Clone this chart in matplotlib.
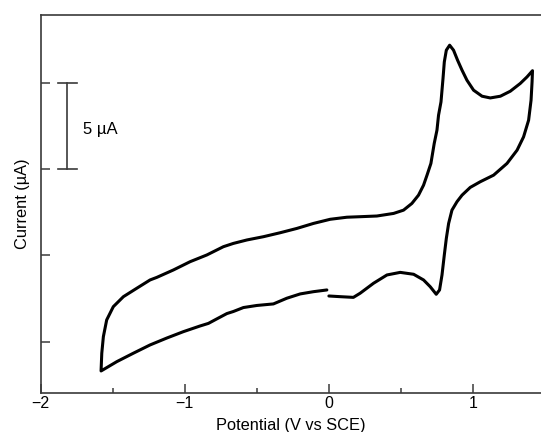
import numpy as np
import matplotlib
matplotlib.use("Agg")
import matplotlib.pyplot as plt
from matplotlib.ticker import MultipleLocator, NullFormatter

plt.rcParams['font.family'] = ['Liberation Sans', 'DejaVu Sans']

# cyclic voltammogram (V vs SCE, current in uA)
# starts at 0 V on the lower branch -> dip -> switch at +1.41 V -> upper branch
# -> switch at -1.58 V -> lower branch back to 0 V
pot_a = [0.00, 0.08, 0.17, 0.217, 0.310, 0.403, 0.495, 0.588, 0.657, 0.703, 0.745,
         0.768, 0.785, 0.801, 0.815, 0.831, 0.854, 0.889, 0.924, 0.981, 1.051, 1.143,
         1.236, 1.306, 1.351, 1.386, 1.403, 1.410, 1.413,
         1.375, 1.328, 1.259, 1.190, 1.120, 1.063, 1.004, 0.958, 0.924, 0.893, 0.865,
         0.838, 0.815, 0.801, 0.792, 0.778, 0.761, 0.750, 0.731, 0.708, 0.681, 0.657,
         0.622, 0.576, 0.518, 0.449, 0.333, 0.217, 0.125, 0.009, -0.107, -0.222,
         -0.338, -0.454, -0.569, -0.663, -0.732, -0.847, -0.963, -1.079, -1.194,
         -1.241, -1.333, -1.426, -1.496, -1.542, -1.565, -1.576, -1.581,
         -1.472, -1.357, -1.241, -1.125, -1.010, -0.894, -0.836, -0.778, -0.708,
         -0.663, -0.593, -0.500, -0.385, -0.292, -0.199, -0.107, -0.014]
cur_a = [2.65, 2.61, 2.57, 2.81, 3.39, 3.87, 4.02, 3.91, 3.58, 3.19, 2.75,
         3.00, 3.87, 5.03, 5.99, 6.86, 7.63, 8.12, 8.50, 8.95, 9.28, 9.66,
         10.34, 11.11, 11.88, 12.85, 14.01, 15.07, 15.72,
         15.36, 14.98, 14.53, 14.24, 14.14, 14.24, 14.59, 15.17, 15.75, 16.33, 16.91,
         17.20, 16.91, 16.23, 15.27, 13.91, 13.14, 12.27, 11.50, 10.34, 9.66, 9.08,
         8.50, 8.02, 7.63, 7.44, 7.29, 7.25, 7.22, 7.10, 6.86, 6.57,
         6.32, 6.09, 5.90, 5.70, 5.51, 5.03, 4.64, 4.16, 3.73,
         3.58, 3.10, 2.61, 2.03, 1.26, 0.29, -0.67, -1.70,
         -1.16, -0.67, -0.19, 0.21, 0.58, 0.91, 1.06, 1.32, 1.63,
         1.75, 1.98, 2.10, 2.19, 2.52, 2.77, 2.90, 3.00]

x_ticks = [-2, -1, 0, 1]
x_tick_labels = ['\u22122', '\u22121', '0', '1']
y_ticks = [0, 5, 10, 15]
scale_bar_x = -1.817
scale_bar_y = [10, 15]
scale_bar_label = '5 \u00b5A'

fig = plt.figure(figsize=(5.41, 4.32), dpi=100)
ax = fig.add_axes([0.0752, 0.091, 0.9248, 0.875])

ax.plot(pot_a, cur_a, color='black', lw=2.2, solid_joinstyle='round',
        solid_capstyle='round')

ax.set_xlim(-2, 1.472)
ax.set_ylim(-2.96, 18.97)

for s in ['left', 'bottom', 'top']:
    ax.spines[s].set_color('#3a3a3a')
    ax.spines[s].set_linewidth(1.2)
ax.spines['right'].set_visible(False)

ax.set_xticks(x_ticks)
ax.set_xticklabels(x_tick_labels)
ax.xaxis.set_minor_locator(MultipleLocator(0.5))
ax.set_yticks(y_ticks)
ax.yaxis.set_major_formatter(NullFormatter())
ax.tick_params(axis='x', which='major', direction='in', length=6.5, width=1.1,
               color='#3a3a3a', labelsize=11.5, pad=2.5)
ax.tick_params(axis='x', which='minor', direction='in', length=3.5, width=1.1,
               color='#3a3a3a')
ax.tick_params(axis='y', which='major', direction='in', length=6.5, width=1.1,
               color='#3a3a3a', labelleft=False)
ax.tick_params(top=False, right=False, which='both')

ax.set_xlabel('Potential (V vs SCE)', fontsize=11.8, labelpad=5)
ax.set_ylabel('Current (\u00b5A)', fontsize=11.8, labelpad=8)

# scale bar
cap = 0.066
ax.plot([scale_bar_x, scale_bar_x], scale_bar_y, color='#3a3a3a', lw=1.2)
for yv in scale_bar_y:
    ax.plot([scale_bar_x - cap, scale_bar_x + cap], [yv, yv], color='#3a3a3a', lw=1.2)
ax.text(scale_bar_x + 0.11, np.mean(scale_bar_y) - 0.2, scale_bar_label,
        fontsize=12, va='center', ha='left')

fig.savefig('out.png', dpi=100)
